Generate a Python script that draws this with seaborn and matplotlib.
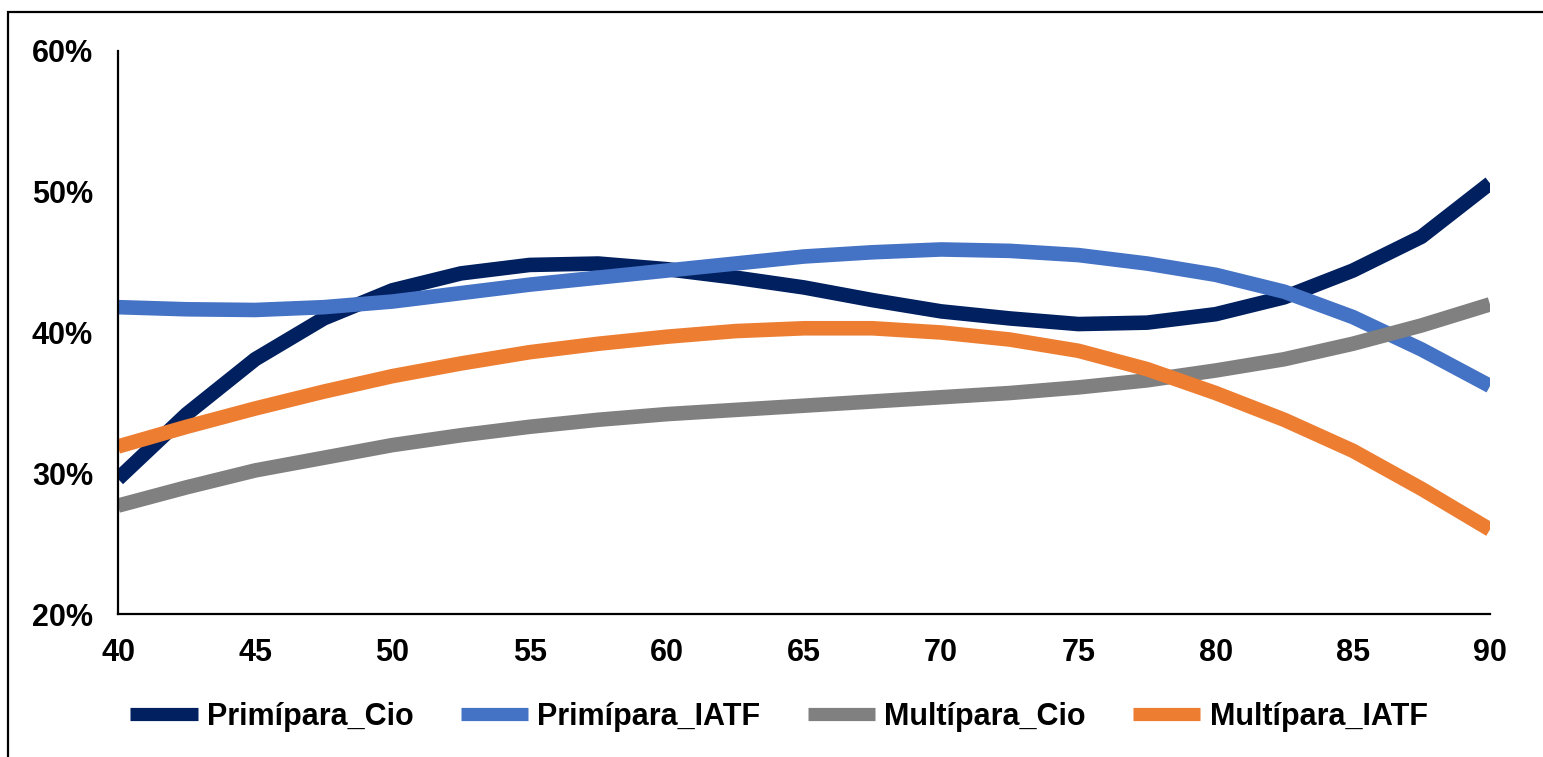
import numpy as np
import pandas as pd
import matplotlib
matplotlib.use("Agg")
import matplotlib.pyplot as plt
import seaborn as sns
from matplotlib.patches import Rectangle

# ---- data ----
dias = [40, 42.5, 45, 47.5, 50, 52.5, 55, 57.5, 60, 62.5, 65, 67.5, 70,
        72.5, 75, 77.5, 80, 82.5, 85, 87.5, 90]
primipara_cio = [29.6, 34.2, 38.1, 41.0, 43.0, 44.2, 44.8, 44.9, 44.5, 43.9,
                 43.2, 42.3, 41.5, 41.0, 40.6, 40.7, 41.3, 42.5, 44.4, 46.8, 50.6]
primipara_iatf = [41.8, 41.65, 41.6, 41.8, 42.2, 42.8, 43.4, 43.9, 44.4, 44.9,
                  45.4, 45.7, 45.9, 45.8, 45.5, 44.9, 44.1, 42.9, 41.1, 38.8, 36.2]
multipara_cio = [27.7, 29.0, 30.2, 31.1, 32.0, 32.7, 33.3, 33.8, 34.2, 34.5,
                 34.8, 35.1, 35.4, 35.7, 36.1, 36.6, 37.3, 38.1, 39.2, 40.5, 42.0]
multipara_iatf = [31.9, 33.3, 34.6, 35.8, 36.9, 37.8, 38.6, 39.2, 39.7, 40.1,
                  40.3, 40.3, 40.0, 39.5, 38.7, 37.4, 35.7, 33.8, 31.6, 28.9, 26.0]
series_names = ["Primípara_Cio", "Primípara_IATF", "Multípara_Cio", "Multípara_IATF"]
x_ticks = [40, 45, 50, 55, 60, 65, 70, 75, 80, 85, 90]
y_ticks = [20, 30, 40, 50, 60]

colors = {"Primípara_Cio": "#002060", "Primípara_IATF": "#4472C4",
          "Multípara_Cio": "#808080", "Multípara_IATF": "#ED7D31"}

df = pd.concat([
    pd.DataFrame({"x": dias, "y": vals, "serie": name})
    for name, vals in zip(series_names,
                          [primipara_cio, primipara_iatf, multipara_cio, multipara_iatf])
], ignore_index=True)

sns.set_theme(style="white")
plt.rcParams["font.family"] = ["Liberation Sans", "DejaVu Sans"]
plt.rcParams["font.weight"] = "bold"
plt.rcParams["text.color"] = "black"
plt.rcParams["xtick.color"] = "black"
plt.rcParams["ytick.color"] = "black"
plt.rcParams["lines.solid_capstyle"] = "butt"
plt.rcParams["lines.solid_joinstyle"] = "round"

fig = plt.figure(figsize=(15.43, 7.57), dpi=100)
ax = fig.add_axes([118 / 1543, 1 - 614 / 757, 1372 / 1543, 563 / 757])

sns.lineplot(data=df, x="x", y="y", hue="serie", hue_order=series_names,
             palette=colors, linewidth=10.5, ax=ax, legend=True, sort=True)

ax.set_xlim(40, 90)
ax.set_ylim(20, 60)
ax.set_xticks(x_ticks)
ax.set_yticks(y_ticks)
ax.set_xticklabels([str(v) for v in x_ticks], fontsize=22, fontweight="bold", color="black")
ax.set_yticklabels([f"{v}%" for v in y_ticks], fontsize=22, fontweight="bold", color="black")
ax.tick_params(axis="both", length=0)
ax.tick_params(axis="x", pad=17)
ax.tick_params(axis="y", pad=18)
ax.set_xlabel("")
ax.set_ylabel("")
for side in ["top", "right"]:
    ax.spines[side].set_visible(False)
for side in ["left", "bottom"]:
    ax.spines[side].set_color("black")
    ax.spines[side].set_linewidth(1.6)
ax.grid(False)

handles, labels = ax.get_legend_handles_labels()
ax.get_legend().remove()
leg = fig.legend(handles, labels, loc="center", bbox_to_anchor=(779 / 1543, 1 - 717 / 757),
                 ncol=4, frameon=False, fontsize=22, handlelength=2.2,
                 handletextpad=0.3, columnspacing=1.55)
for t in leg.get_texts():
    t.set_fontweight("bold")
    t.set_color("black")
for h in leg.get_lines():
    h.set_linewidth(9.5)

# outer frame (top and left edges visible)
fig.patches.append(Rectangle((8 / 1543, -0.2), 1.3, 1.2 - 12 / 757,
                             transform=fig.transFigure, fill=False,
                             edgecolor="black", linewidth=1.6, clip_on=False))

fig.savefig("out.png", dpi=100, facecolor="white")
